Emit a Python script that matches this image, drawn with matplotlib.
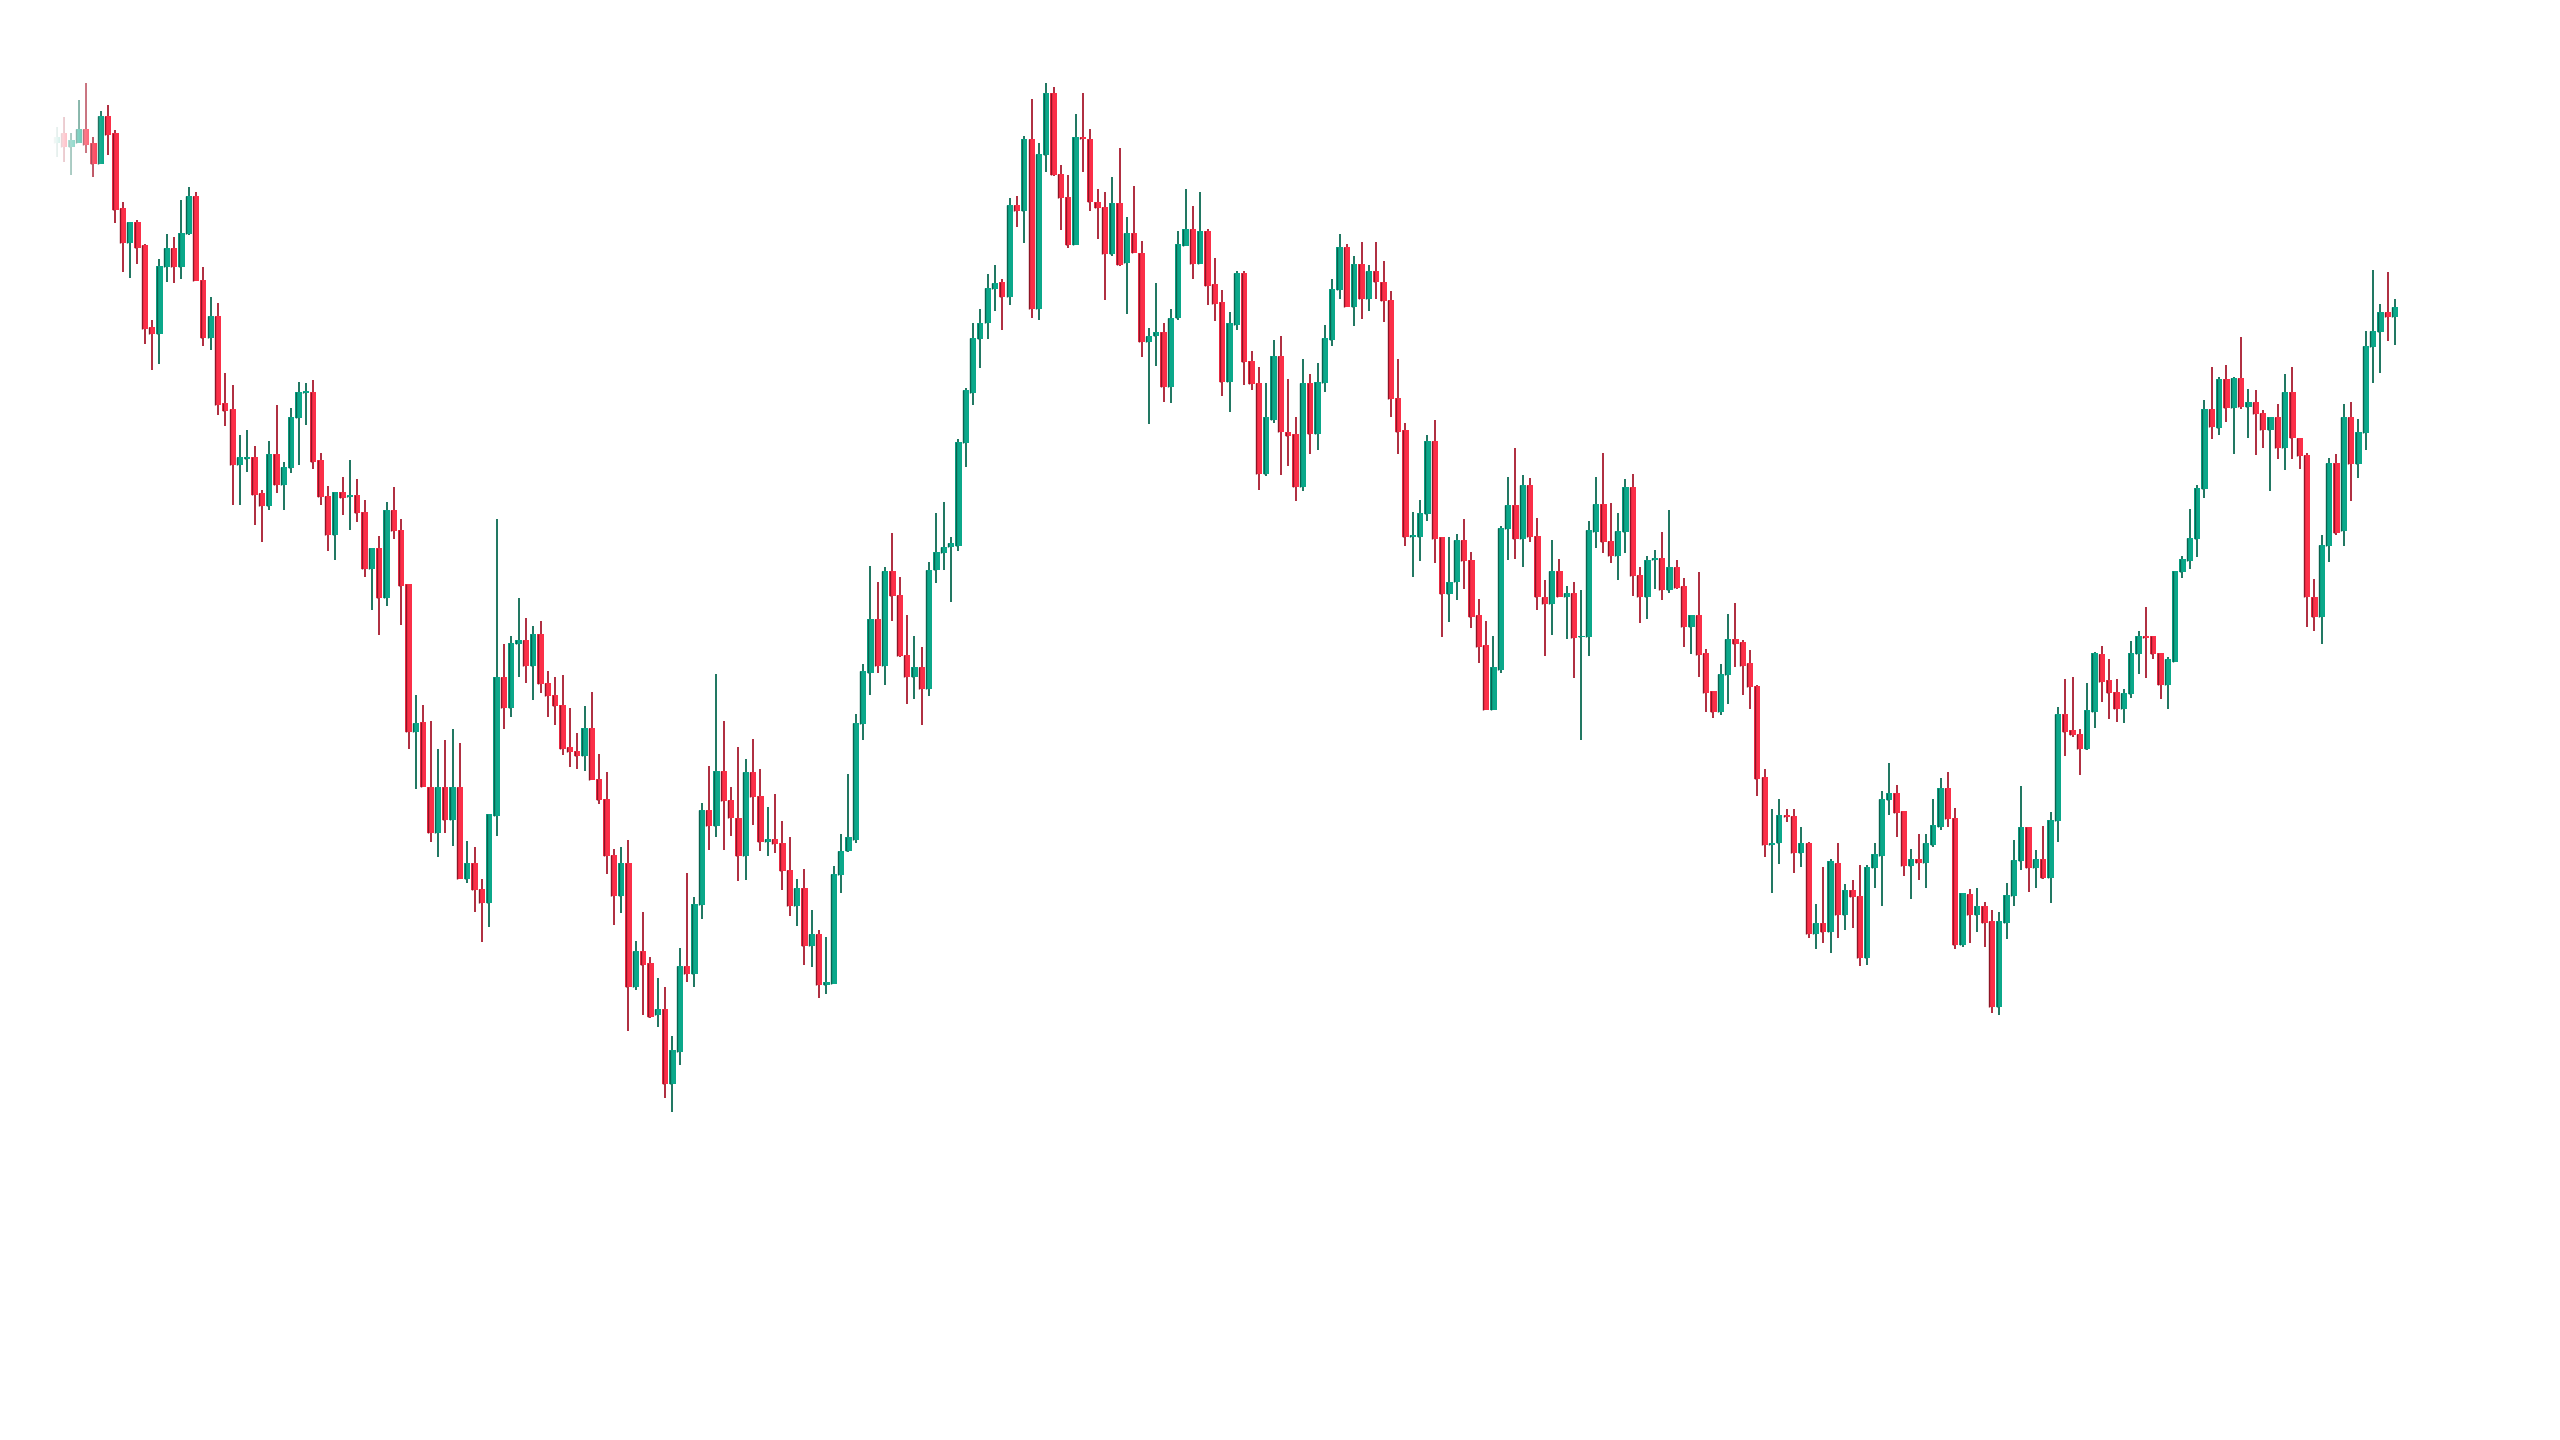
import numpy as np
from matplotlib import pyplot as plt

# OHLC values, one candle per index
opens = [
    129.7, 130.7, 129.3, 129.7, 131.1, 129.7, 127.6, 132.4, 130.7, 123.2,
    119.7, 121.8, 119.5, 111.3, 110.6, 117.3, 119.2, 117.3, 120.6, 124.4,
    116.0, 110.2, 112.4, 103.7, 103.1, 97.5, 98.1, 98.3, 94.7, 93.4,
    98.6, 95.5, 97.2, 102.2, 104.7, 104.8, 98.0, 94.4, 90.5, 94.8,
    94.3, 94.5, 92.8, 87.1, 89.2, 84.2, 93.0, 91.0, 85.6, 70.8,
    71.8, 65.3, 60.7, 65.3, 62.0, 65.3, 56.1, 57.7, 55.1, 53.7,
    62.4, 76.3, 73.2, 79.6, 80.0, 77.4, 80.6, 75.7, 74.5, 73.5,
    69.3, 68.9, 68.4, 71.2, 66.1, 64.1, 58.5, 54.4, 57.7, 45.3,
    48.9, 47.7, 42.5, 43.1, 35.6, 38.8, 47.4, 46.6, 53.5, 63.0,
    61.4, 66.9, 64.0, 62.2, 58.4, 66.8, 64.4, 59.8, 60.1, 59.7,
    57.0, 53.4, 55.2, 49.4, 50.6, 45.5, 45.6, 56.5, 58.9, 60.0,
    71.6, 76.7, 82.1, 77.4, 86.9, 84.5, 78.5, 76.3, 77.3, 75.1,
    87.0, 88.7, 89.3, 89.4, 99.7, 104.7, 110.1, 111.7, 115.1, 115.8,
    114.3, 123.5, 122.9, 130.1, 113.1, 128.5, 134.7, 126.6, 124.3, 119.5,
    130.3, 130.1, 123.8, 123.3, 118.6, 123.7, 117.7, 120.7, 118.7, 109.8,
    110.4, 110.8, 105.3, 112.2, 119.4, 121.1, 117.6, 120.9, 115.6, 113.8,
    105.8, 111.5, 116.7, 107.9, 105.7, 96.6, 102.0, 108.4, 100.8, 100.6,
    95.3, 105.7, 100.6, 105.7, 110.0, 115.0, 119.3, 113.3, 117.6, 114.1,
    116.9, 115.8, 114.0, 104.2, 101.0, 90.3, 90.3, 92.6, 99.9, 90.3,
    84.6, 85.8, 90.0, 88.0, 82.5, 79.5, 73.0, 77.0, 91.1, 93.5,
    90.1, 95.5, 90.4, 84.3, 83.6, 86.9, 84.3, 84.7, 80.3, 80.3,
    90.8, 93.6, 89.9, 88.4, 90.8, 95.3, 86.5, 84.3, 88.0, 88.2,
    85.0, 87.3, 85.4, 81.3, 82.5, 78.7, 74.9, 72.8, 76.5, 80.1,
    79.8, 77.7, 75.4, 66.3, 59.5, 59.7, 62.5, 62.4, 58.7, 59.7,
    50.6, 51.7, 50.8, 57.7, 52.5, 55.0, 54.4, 48.2, 57.2, 58.4,
    64.0, 64.7, 62.9, 57.4, 58.1, 57.7, 59.5, 61.3, 65.2, 62.2,
    49.5, 54.6, 52.5, 53.4, 51.9, 43.3, 51.7, 54.4, 57.9, 61.3,
    57.2, 58.1, 56.2, 61.9, 72.6, 71.0, 70.6, 69.1, 72.8, 78.6,
    76.0, 74.8, 73.1, 74.6, 78.6, 80.4, 80.4, 78.7, 75.5, 77.8,
    86.8, 87.9, 90.1, 95.1, 103.1, 101.2, 106.1, 103.2, 106.2, 103.3,
    103.8, 102.7, 101.0, 102.3, 99.2, 104.8, 100.2, 98.5, 84.3, 82.3,
    89.4, 97.7, 90.9, 102.3, 97.6, 100.7, 109.3, 110.8, 112.8, 112.3,
]
highs = [
    131.3, 132.3, 130.7, 134.0, 135.7, 130.3, 132.9, 133.5, 131.0, 123.8,
    121.8, 122.0, 119.6, 112.0, 118.1, 120.6, 120.3, 124.0, 125.3, 124.8,
    117.3, 114.3, 113.7, 106.7, 105.5, 100.5, 101.0, 99.4, 95.0, 99.9,
    103.5, 97.8, 103.2, 105.8, 105.7, 106.0, 98.7, 95.4, 94.8, 96.3,
    98.0, 96.1, 94.0, 89.2, 90.4, 93.8, 95.3, 92.1, 85.6, 74.5,
    73.5, 71.9, 69.1, 70.0, 71.1, 69.7, 59.9, 59.3, 56.1, 62.6,
    92.1, 79.6, 80.4, 84.2, 82.2, 81.4, 81.9, 76.9, 76.3, 76.5,
    73.2, 70.7, 73.4, 74.8, 68.6, 66.8, 59.1, 59.3, 60.0, 49.9,
    52.8, 48.3, 46.2, 45.3, 40.4, 49.2, 56.7, 54.3, 63.7, 67.4,
    76.6, 71.9, 65.3, 69.3, 68.1, 70.1, 67.1, 63.3, 64.6, 61.9,
    60.3, 56.1, 57.1, 53.0, 51.0, 50.3, 57.4, 60.6, 66.6, 72.6,
    77.6, 87.4, 85.8, 87.3, 90.7, 86.3, 82.5, 80.4, 79.3, 87.8,
    92.7, 93.8, 90.3, 100.1, 105.2, 111.7, 113.1, 116.6, 117.5, 116.1,
    124.2, 124.4, 130.4, 134.1, 129.7, 135.7, 135.3, 127.5, 126.5, 132.6,
    134.7, 131.1, 125.1, 124.8, 126.3, 129.2, 122.3, 125.4, 119.9, 111.2,
    115.7, 111.7, 113.1, 120.9, 125.1, 123.4, 124.8, 121.1, 118.2, 115.0,
    112.8, 116.9, 116.9, 108.9, 107.3, 105.7, 110.0, 110.4, 106.1, 102.3,
    108.1, 106.6, 107.7, 111.5, 116.1, 120.6, 119.6, 118.4, 119.8, 117.5,
    119.8, 117.9, 114.9, 108.1, 101.7, 92.8, 94.0, 100.5, 102.0, 90.3,
    90.3, 90.6, 92.1, 88.8, 84.1, 81.9, 80.4, 91.4, 96.3, 99.2,
    96.5, 96.2, 92.2, 86.0, 90.0, 88.1, 85.4, 85.8, 85.0, 91.9,
    96.3, 98.7, 93.7, 92.7, 96.1, 96.6, 87.3, 88.4, 89.0, 90.8,
    93.0, 88.0, 86.2, 82.5, 86.8, 79.1, 74.9, 77.6, 82.6, 83.7,
    80.0, 79.0, 75.5, 67.1, 63.1, 64.1, 63.1, 63.1, 61.3, 59.8,
    53.6, 57.3, 58.1, 59.7, 55.6, 56.0, 57.5, 57.5, 59.7, 64.9,
    67.7, 65.5, 62.9, 59.1, 60.6, 60.6, 64.1, 66.2, 66.8, 63.2,
    54.7, 55.1, 55.2, 53.8, 53.0, 52.8, 55.7, 60.0, 65.4, 61.3,
    59.0, 61.4, 62.8, 73.3, 76.1, 76.3, 71.1, 75.7, 78.8, 79.4,
    78.1, 76.1, 75.1, 79.9, 80.9, 83.3, 80.4, 78.7, 78.3, 86.9,
    88.4, 93.1, 95.5, 104.0, 107.3, 106.3, 107.5, 106.3, 110.3, 105.1,
    105.0, 103.0, 102.3, 103.6, 106.6, 107.3, 100.2, 98.7, 86.1, 90.5,
    98.2, 98.6, 103.6, 103.8, 102.1, 110.9, 117.0, 113.6, 116.8, 114.1,
]
lows = [
    128.3, 127.8, 126.5, 129.7, 128.7, 126.3, 127.6, 128.5, 121.7, 116.8,
    116.2, 117.6, 109.6, 107.0, 107.6, 115.8, 115.7, 116.1, 120.5, 115.9,
    109.4, 109.0, 102.5, 101.4, 93.5, 93.5, 96.8, 91.5, 89.8, 93.0,
    94.7, 93.0, 96.7, 97.5, 101.5, 97.1, 93.5, 88.9, 88.0, 92.5,
    91.0, 91.8, 86.3, 83.0, 80.5, 83.4, 90.1, 81.5, 69.1, 65.1,
    65.3, 59.8, 58.3, 60.7, 59.4, 56.1, 55.7, 52.8, 49.8, 51.3,
    60.4, 71.1, 72.3, 76.3, 75.7, 74.0, 74.7, 72.3, 71.5, 68.5,
    67.3, 67.1, 66.9, 66.0, 63.6, 56.6, 51.5, 52.7, 40.9, 45.0,
    42.5, 42.2, 41.3, 34.2, 32.8, 37.5, 45.8, 45.3, 52.1, 59.0,
    60.3, 59.0, 60.4, 55.9, 56.0, 61.5, 58.9, 58.4, 58.7, 55.0,
    52.4, 51.4, 47.5, 47.3, 44.2, 44.6, 45.6, 54.7, 58.8, 59.7,
    70.0, 74.5, 76.7, 75.5, 81.9, 78.3, 73.6, 74.1, 71.5, 74.4,
    85.7, 87.0, 83.8, 88.9, 97.3, 103.5, 107.2, 110.1, 112.9, 111.0,
    113.5, 121.3, 119.7, 112.2, 112.0, 126.8, 126.4, 121.0, 119.2, 119.5,
    126.8, 122.9, 120.1, 114.0, 118.4, 117.4, 112.6, 118.7, 108.3, 101.6,
    107.4, 103.8, 103.7, 112.0, 119.4, 116.1, 117.6, 113.5, 111.9, 104.4,
    102.8, 111.0, 105.5, 105.0, 95.0, 96.4, 101.7, 96.5, 97.4, 93.9,
    94.9, 98.6, 99.0, 104.8, 109.4, 114.1, 113.3, 111.4, 112.1, 112.9,
    114.1, 111.8, 102.3, 98.6, 89.4, 86.3, 87.9, 91.9, 87.7, 80.3,
    81.8, 84.0, 85.1, 81.2, 77.7, 73.0, 73.0, 76.7, 88.0, 88.1,
    87.3, 89.8, 83.0, 78.4, 80.5, 84.3, 80.1, 76.2, 70.0, 78.4,
    89.2, 88.7, 87.7, 86.0, 88.7, 84.4, 81.7, 82.1, 85.1, 84.0,
    84.7, 85.1, 79.3, 78.6, 76.3, 72.8, 72.2, 72.5, 73.6, 77.3,
    74.5, 73.1, 64.4, 58.3, 54.7, 57.6, 61.8, 56.7, 57.3, 50.2,
    49.1, 49.7, 48.7, 50.2, 51.0, 51.2, 47.4, 47.5, 55.2, 53.4,
    62.5, 60.3, 56.4, 54.1, 56.0, 55.2, 59.3, 61.0, 61.3, 49.1,
    49.3, 49.7, 50.8, 49.3, 42.7, 42.5, 50.1, 53.4, 57.0, 54.8,
    55.2, 56.1, 53.7, 59.8, 68.4, 70.3, 66.5, 69.0, 71.2, 73.8,
    72.1, 71.8, 71.7, 74.2, 76.6, 76.2, 78.1, 74.1, 73.1, 77.8,
    86.2, 87.1, 88.3, 94.2, 100.1, 100.5, 101.8, 98.6, 103.1, 100.2,
    98.5, 99.2, 94.9, 98.1, 97.0, 98.1, 97.1, 81.3, 80.9, 79.6,
    87.8, 90.5, 89.4, 93.9, 96.2, 99.0, 105.7, 106.7, 109.9, 109.5,
]
closes = [
    130.3, 129.3, 130.0, 131.1, 129.5, 127.6, 132.4, 130.5, 123.0, 119.7,
    121.8, 119.2, 111.1, 110.6, 117.4, 119.2, 117.3, 120.7, 124.4, 115.9,
    110.2, 112.4, 103.5, 102.9, 97.5, 98.3, 98.3, 94.5, 93.4, 98.6,
    95.5, 97.3, 102.3, 104.8, 104.8, 97.8, 94.3, 90.5, 94.8, 94.2,
    94.4, 92.7, 87.1, 89.2, 84.2, 93.0, 90.9, 85.4, 70.8, 71.7,
    65.3, 60.7, 65.3, 62.0, 65.3, 56.1, 57.7, 55.0, 53.7, 62.6,
    76.3, 73.2, 79.7, 80.0, 77.4, 80.6, 75.6, 74.4, 73.4, 69.1,
    68.8, 68.4, 71.2, 66.0, 64.0, 58.4, 54.4, 57.7, 45.3, 48.9,
    47.5, 42.3, 43.1, 35.6, 39.0, 47.4, 46.6, 53.6, 63.0, 61.4,
    66.9, 63.9, 62.2, 58.4, 66.8, 64.3, 59.8, 60.1, 59.6, 56.9,
    53.4, 55.2, 49.4, 50.6, 45.5, 45.8, 56.6, 58.9, 60.3, 71.7,
    76.9, 82.1, 77.4, 86.9, 84.4, 78.4, 76.3, 77.3, 75.1, 87.0,
    88.8, 89.3, 89.7, 99.8, 105.0, 110.2, 111.7, 115.2, 115.7, 114.3,
    123.5, 122.9, 130.1, 113.1, 128.6, 134.7, 126.5, 124.2, 119.5, 130.3,
    130.1, 123.8, 123.2, 118.6, 123.7, 117.5, 120.7, 118.7, 109.8, 110.4,
    110.8, 105.3, 112.2, 119.6, 121.1, 117.6, 120.9, 115.4, 113.6, 105.8,
    111.7, 116.7, 107.8, 105.6, 96.6, 102.3, 108.4, 100.8, 100.4, 95.3,
    105.7, 100.6, 105.8, 110.2, 115.1, 119.3, 113.3, 117.6, 114.1, 116.9,
    115.8, 113.9, 104.1, 100.8, 90.3, 90.5, 92.7, 99.9, 90.1, 84.6,
    85.8, 90.0, 87.9, 82.3, 79.3, 73.0, 77.3, 91.2, 93.5, 90.1,
    95.5, 90.3, 84.3, 83.6, 86.9, 84.3, 84.7, 80.2, 80.4, 91.0,
    93.6, 89.8, 88.4, 90.9, 95.3, 86.4, 84.3, 88.0, 88.2, 85.0,
    87.3, 85.2, 81.3, 82.5, 78.5, 74.7, 72.8, 76.6, 80.1, 79.6,
    77.4, 75.3, 66.1, 59.5, 59.7, 62.5, 62.3, 58.7, 59.7, 50.6,
    51.7, 50.8, 57.9, 52.5, 55.0, 54.3, 48.2, 57.3, 58.6, 64.1,
    64.7, 62.7, 57.4, 58.1, 57.7, 59.7, 61.5, 65.2, 62.1, 49.5,
    54.7, 52.5, 53.4, 51.7, 43.3, 51.9, 54.5, 58.0, 61.3, 57.2,
    58.1, 56.2, 62.0, 72.6, 70.8, 70.5, 69.1, 73.0, 78.7, 75.8,
    74.7, 73.1, 74.7, 78.7, 80.4, 80.2, 78.6, 75.5, 78.1, 86.9,
    88.1, 90.2, 95.2, 103.1, 101.3, 106.1, 103.2, 106.2, 103.3, 103.8,
    102.6, 101.0, 102.3, 99.2, 104.8, 100.2, 98.4, 84.3, 82.3, 89.5,
    97.7, 90.7, 102.3, 97.6, 100.8, 109.4, 110.9, 112.8, 112.3, 113.3,
]

up_body = '#0ba88a'
up_wick = '#0b6a53'
up_shade = '#086450'
down_body = '#fb2f48'
down_wick = '#a81a2e'
down_shade = '#8e1526'

o = np.array(opens)
h = np.array(highs)
l = np.array(lows)
c = np.array(closes)
x = np.arange(len(o))
up = c >= o
w = 0.86

fig = plt.figure(figsize=(25.6, 14.4), dpi=100)
ax = fig.add_axes([0, 0, 1, 1])
ax.set_xlim(-7.74, 341.5)
ax.set_ylim(0, 144)
ax.axis('off')

ax.vlines(x, l, h, colors=np.where(up, up_wick, down_wick), linewidth=1.3, zorder=1)

bottom = np.minimum(o, c)
height = np.maximum(np.abs(c - o), 0.15)
ax.bar(x, height, bottom=bottom, width=w, color=np.where(up, up_body, down_body),
       linewidth=0, zorder=2)
# darker strip along the left edge of each body
ax.vlines(x - w / 2 + 0.07, bottom, bottom + height,
          colors=np.where(up, up_shade, down_shade), linewidth=1.0, zorder=3)

# white fade over the first few candles on the left
fade_x = np.linspace(-7.74, 7.0, 300)
grad = np.ones((1, 300, 4))
grad[0, :, 3] = np.clip((6.3 - fade_x) / 7.0, 0, 1)
ax.imshow(grad, extent=[-7.74, 7.0, 0, 144], aspect='auto', zorder=4)

plt.savefig('out.png', dpi=100)
